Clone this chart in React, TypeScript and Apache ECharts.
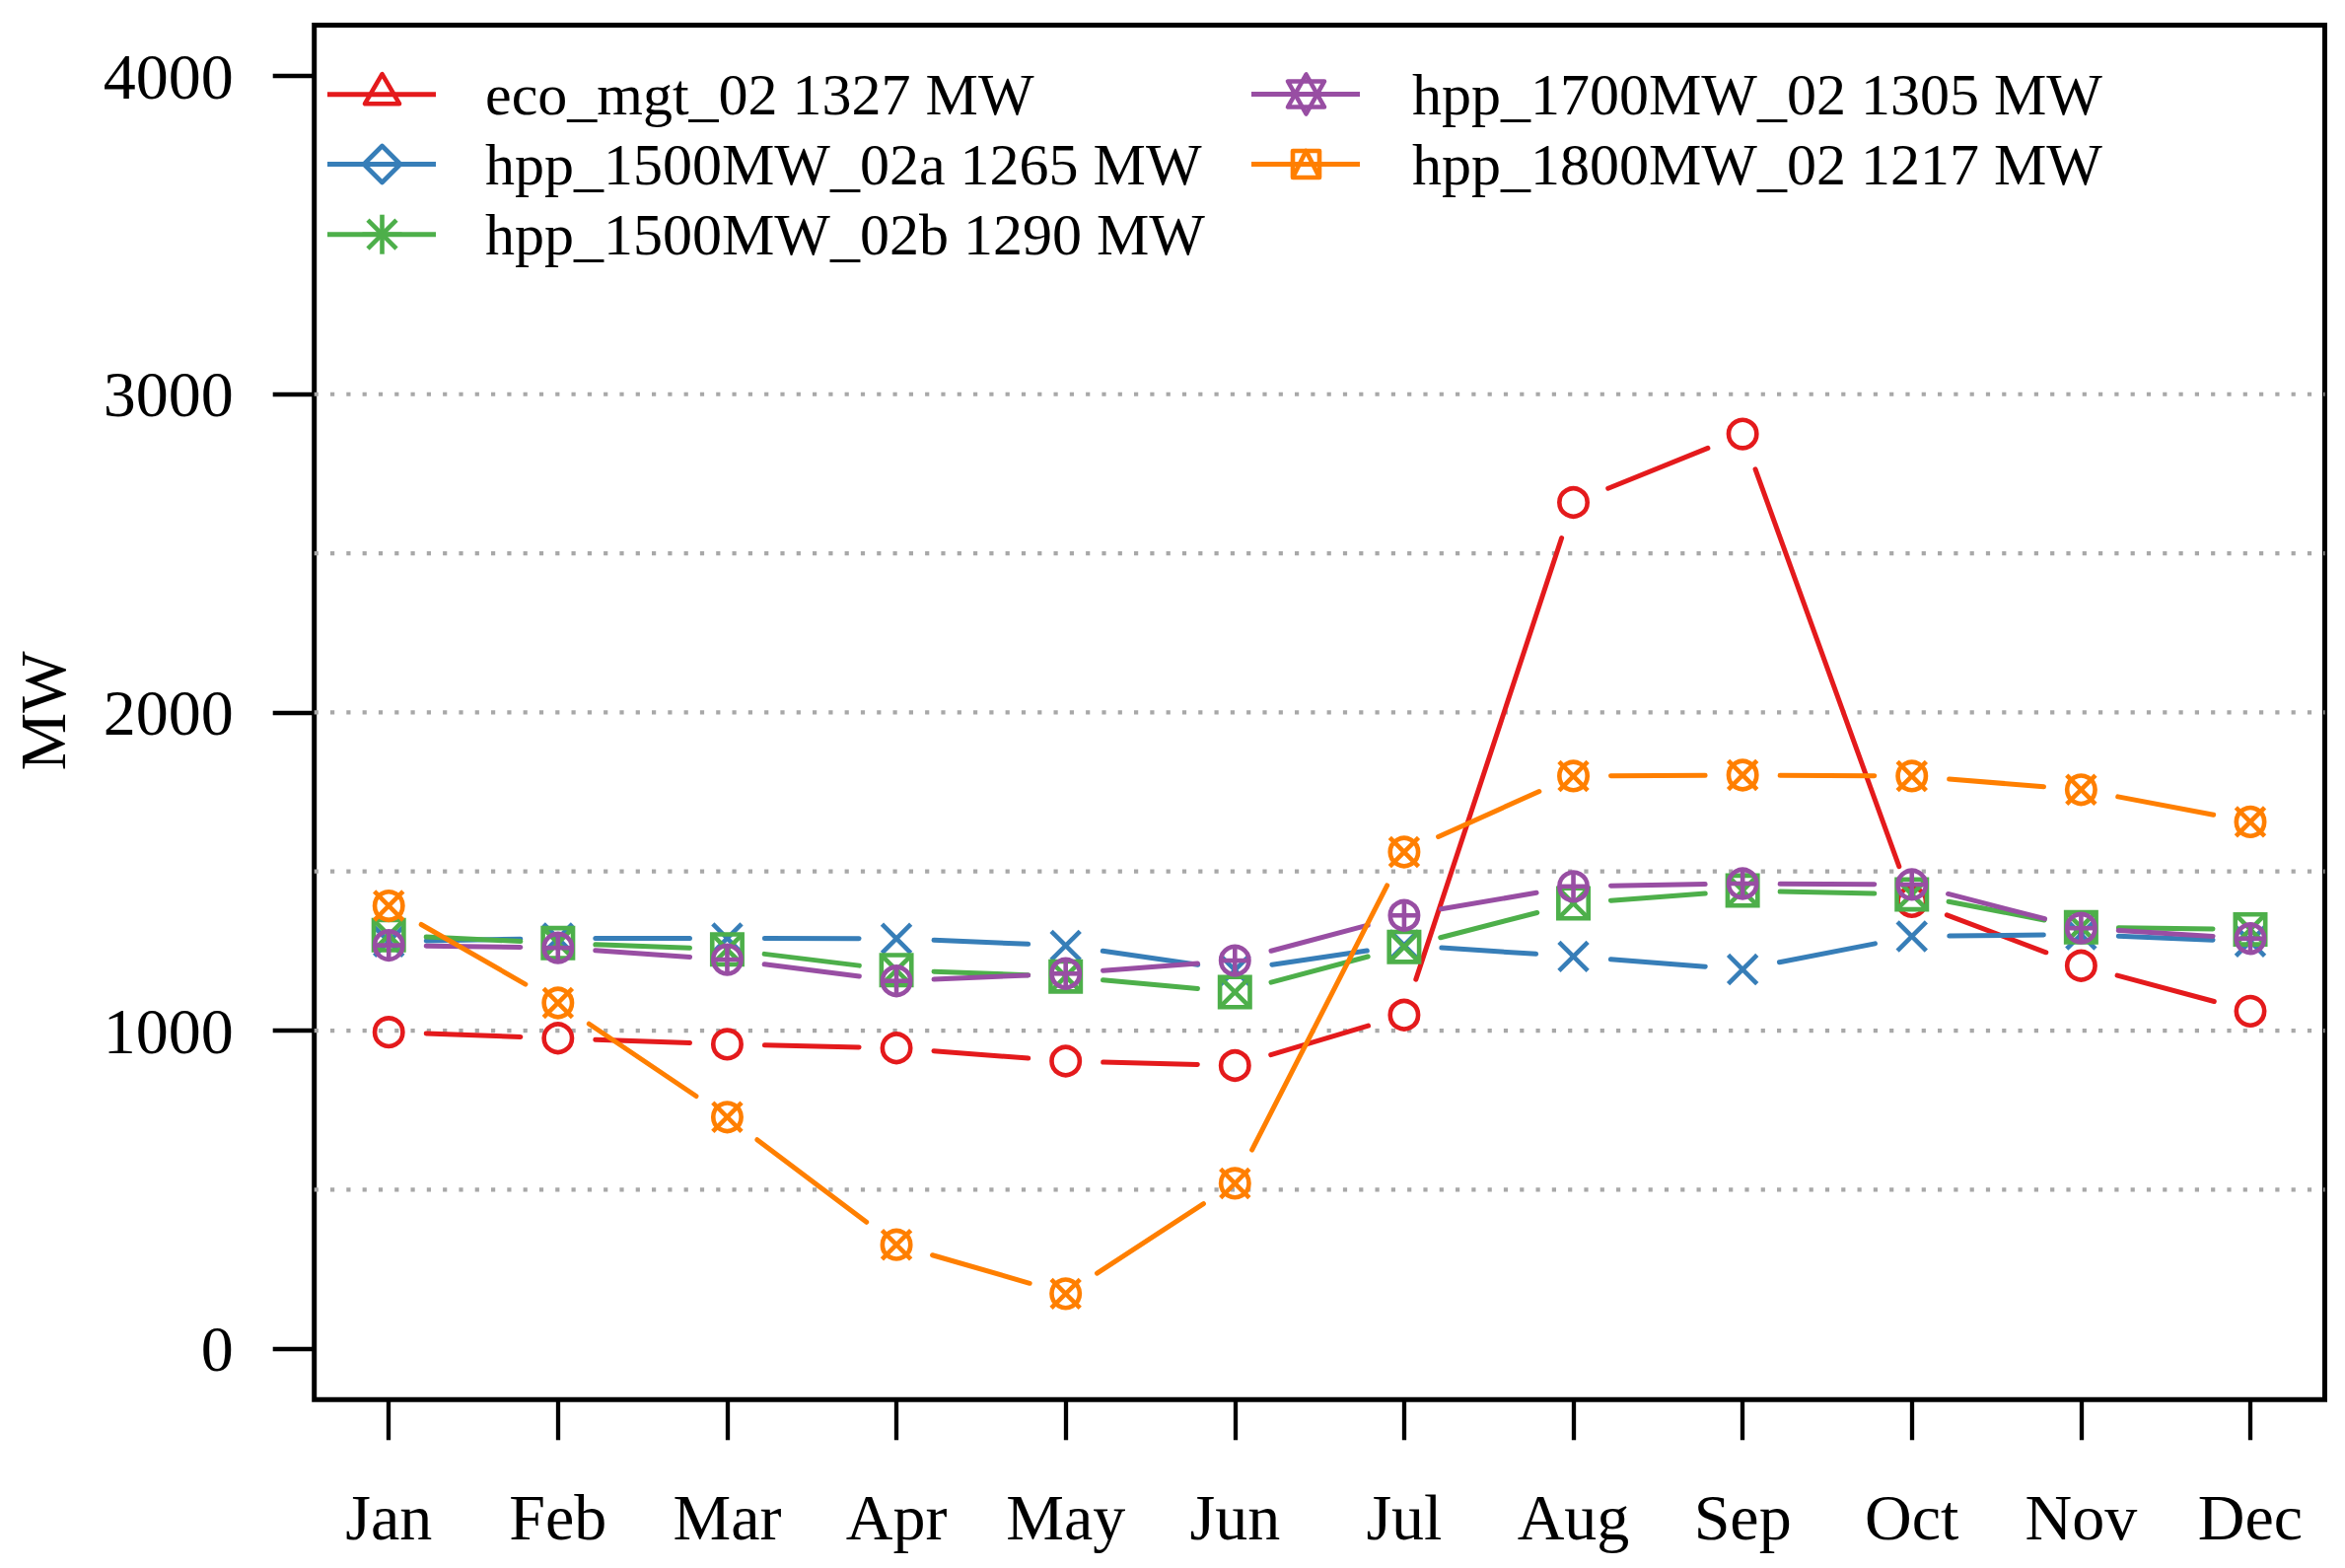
import React, { useEffect, useRef } from "react";
import * as echarts from "echarts";

const MONTHS = ["Jan", "Feb", "Mar", "Apr", "May", "Jun", "Jul", "Aug", "Sep", "Oct", "Nov", "Dec"];
const ECO_MGT_02 = [995, 976, 957, 945, 904, 890, 1049, 2660, 2875, 1405, 1204, 1061];
const HPP_1500MW_02A = [1280, 1290, 1290, 1289, 1267, 1190, 1268, 1233, 1192, 1296, 1302, 1280];
const HPP_1500MW_02B = [1300, 1275, 1255, 1190, 1170, 1121, 1263, 1400, 1440, 1428, 1325, 1318];
const HPP_1700MW_02 = [1268, 1260, 1223, 1156, 1179, 1220, 1362, 1453, 1462, 1459, 1322, 1289];
const HPP_1800MW_02 = [1392, 1087, 728, 327, 173, 520, 1561, 1800, 1803, 1800, 1757, 1656];
const Y_TICKS = [0, 1000, 2000, 3000, 4000];
const X_TICKS = [1, 2, 3, 4, 5, 6, 7, 8, 9, 10, 11, 12];
const GRID_LINES = [500, 1000, 1500, 2000, 2500, 3000];
const LEGEND_LABELS = [
  "eco_mgt_02 1327 MW",
  "hpp_1500MW_02a 1265 MW",
  "hpp_1500MW_02b 1290 MW",
  "hpp_1700MW_02 1305 MW",
  "hpp_1800MW_02 1217 MW",
];
const COLORS = ["#E41A1C", "#377EB8", "#4DAF4A", "#984EA3", "#FF7F00"];

const FONT = "'Liberation Serif', 'DejaVu Serif', serif";
const LW = 5;
const SW = 4.6;
const GAP = 38;
const X_MIN = 0.56;
const X_MAX = 12.44;

function ln(x1: number, y1: number, x2: number, y2: number, color: string, w = SW) {
  return { type: "line", shape: { x1, y1, x2, y2 }, style: { stroke: color, lineWidth: w, lineCap: "butt" } };
}
function circ(cx: number, cy: number, r: number, color: string) {
  return { type: "circle", shape: { cx, cy, r }, style: { fill: "none", stroke: color, lineWidth: SW } };
}

function plotMarker(kind: string, x: number, y: number, c: string): any[] {
  const r = 14.2;
  const h = 14.6;
  switch (kind) {
    case "circle":
      return [circ(x, y, r, c)];
    case "x":
      return [ln(x - h, y - h, x + h, y + h, c), ln(x - h, y + h, x + h, y - h, c)];
    case "squareX": {
      const s = 15.2;
      return [
        { type: "rect", shape: { x: x - s, y: y - s, width: 2 * s, height: 2 * s }, style: { fill: "none", stroke: c, lineWidth: SW } },
        ln(x - s, y - s, x + s, y + s, c),
        ln(x - s, y + s, x + s, y - s, c),
      ];
    }
    case "circlePlus":
      return [circ(x, y, r, c), ln(x - r, y, x + r, y, c), ln(x, y - r, x, y + r, c)];
    case "circleX":
      return [circ(x, y, r, c), ln(x - h, y - h, x + h, y + h, c), ln(x - h, y + h, x + h, y - h, c)];
  }
  return [];
}

function legendMarker(kind: string, x: number, y: number, c: string): any[] {
  const st = { fill: "none", stroke: c, lineWidth: SW, lineJoin: "round" };
  switch (kind) {
    case "triangle":
      return [{ type: "polygon", shape: { points: [[x, y - 20.5], [x - 17.5, y + 9.5], [x + 17.5, y + 9.5]] }, style: st }];
    case "diamond":
      return [{ type: "polygon", shape: { points: [[x, y - 18.5], [x + 18.5, y], [x, y + 18.5], [x - 18.5, y]] }, style: st }];
    case "asterisk":
      return [
        ln(x, y - 20, x, y + 20, c),
        ln(x - 20, y, x + 20, y, c),
        ln(x - 14.5, y - 14.5, x + 14.5, y + 14.5, c),
        ln(x - 14.5, y + 14.5, x + 14.5, y - 14.5, c),
      ];
    case "star":
      return [
        { type: "polygon", shape: { points: [[x, y - 20], [x - 18.5, y + 13], [x + 18.5, y + 13]] }, style: st },
        { type: "polygon", shape: { points: [[x, y + 20], [x - 18.5, y - 13], [x + 18.5, y - 13]] }, style: st },
      ];
    case "squareTri":
      return [
        { type: "rect", shape: { x: x - 13.5, y: y - 13.5, width: 27, height: 27 }, style: st },
        { type: "polyline", shape: { points: [[x - 13.5, y + 13.5], [x, y - 13.5], [x + 13.5, y + 13.5]] }, style: st },
      ];
  }
  return [];
}

function makeSeries(vals: number[], color: string, marker: string) {
  return {
    type: "custom",
    coordinateSystem: "cartesian2d",
    clip: false,
    silent: true,
    data: vals.map((v, i) => [X_TICKS[i], v]),
    encode: { x: 0, y: 1 },
    renderItem: (params: any, api: any) => {
      const i = params.dataIndex;
      const p = api.coord([api.value(0), api.value(1)]);
      const children: any[] = [];
      if (i < vals.length - 1) {
        const q = api.coord([X_TICKS[i + 1], vals[i + 1]]);
        const dx = q[0] - p[0];
        const dy = q[1] - p[1];
        const d = Math.hypot(dx, dy);
        if (d > 2 * GAP) {
          const ux = dx / d;
          const uy = dy / d;
          children.push({
            type: "line",
            shape: { x1: p[0] + ux * GAP, y1: p[1] + uy * GAP, x2: q[0] - ux * GAP, y2: q[1] - uy * GAP },
            style: { stroke: color, lineWidth: LW, lineCap: "round" },
          });
        }
      }
      children.push(...plotMarker(marker, p[0], p[1], color));
      return { type: "group", children };
    },
  };
}

export default function App() {
  const ref = useRef<HTMLDivElement>(null);
  useEffect(() => {
    document.body.style.margin = "0";
    if (!ref.current) return;
    const chart = echarts.init(ref.current, null, { renderer: "svg" });

    const gridSeries = {
      type: "custom",
      coordinateSystem: "cartesian2d",
      silent: true,
      clip: false,
      z: 1,
      data: GRID_LINES.map((v) => [X_MIN, v]),
      encode: { x: 0, y: 1 },
      renderItem: (_params: any, api: any) => {
        const a = api.coord([X_MIN, api.value(1)]);
        const b = api.coord([X_MAX, api.value(1)]);
        return {
          type: "line",
          shape: { x1: a[0], y1: a[1], x2: b[0], y2: b[1] },
          style: { stroke: "#A8A8A8", lineWidth: 4.2, lineDash: [4.2, 12.1], lineCap: "butt" },
        };
      },
    };

    const markersPlot = ["circle", "x", "squareX", "circlePlus", "circleX"];
    const markersLegend = ["triangle", "diamond", "asterisk", "star", "squareTri"];
    const dataSets = [ECO_MGT_02, HPP_1500MW_02A, HPP_1500MW_02B, HPP_1700MW_02, HPP_1800MW_02];

    const legendPos = [
      { lx1: 332, lx2: 442, mx: 387.5, tx: 492, y: 95.7 },
      { lx1: 332, lx2: 442, mx: 387.5, tx: 492, y: 166.5 },
      { lx1: 332, lx2: 442, mx: 387.5, tx: 492, y: 237.7 },
      { lx1: 1269, lx2: 1379, mx: 1324.5, tx: 1432, y: 95.5 },
      { lx1: 1269, lx2: 1379, mx: 1324.5, tx: 1432, y: 166.5 },
    ];
    const legendEls: any[] = [];
    LEGEND_LABELS.forEach((label, k) => {
      const p = legendPos[k];
      legendEls.push(ln(p.lx1, p.y, p.lx2, p.y, COLORS[k], LW));
      legendEls.push(...legendMarker(markersLegend[k], p.mx, p.y, COLORS[k]));
      legendEls.push({
        type: "text",
        x: p.tx,
        y: p.y,
        style: { text: label, fontSize: 60, fontFamily: FONT, fill: "#000", align: "left", verticalAlign: "middle" },
      });
    });

    chart.setOption({
      animation: false,
      backgroundColor: "#ffffff",
      grid: {
        left: 318.7,
        top: 25.5,
        width: 2038.8,
        height: 1393.8,
        show: true,
        borderColor: "#000",
        borderWidth: 5,
        backgroundColor: "transparent",
        containLabel: false,
      },
      xAxis: {
        type: "value",
        min: X_MIN,
        max: X_MAX,
        axisLine: { show: false, onZero: false },
        splitLine: { show: false },
        axisTick: { show: true, length: 41, lineStyle: { color: "#000", width: 4.3 }, customValues: X_TICKS },
        axisLabel: {
          customValues: X_TICKS,
          formatter: (v: number) => MONTHS[Math.round(v) - 1] || "",
          fontSize: 66,
          lineHeight: 66,
          fontFamily: FONT,
          color: "#000",
          margin: 86,
        },
      },
      yAxis: {
        type: "value",
        min: -160,
        max: 4160,
        axisLine: { show: false, onZero: false },
        splitLine: { show: false },
        axisTick: { show: true, length: 42, lineStyle: { color: "#000", width: 4.3 }, customValues: Y_TICKS },
        axisLabel: {
          customValues: Y_TICKS,
          formatter: (v: number) => String(v),
          fontSize: 66,
          fontFamily: FONT,
          color: "#000",
          margin: 82,
        },
      },
      graphic: [
        {
          type: "text",
          x: 43,
          y: 721,
          rotation: Math.PI / 2,
          style: { text: "MW", fontSize: 66, fontFamily: FONT, fill: "#000", align: "center", verticalAlign: "middle" },
        },
        ...legendEls,
      ],
      series: [gridSeries, ...dataSets.map((d, k) => makeSeries(d, COLORS[k], markersPlot[k]))],
    });
    return () => chart.dispose();
  }, []);
  return <div ref={ref} style={{ width: 2378, height: 1590 }} />;
}
